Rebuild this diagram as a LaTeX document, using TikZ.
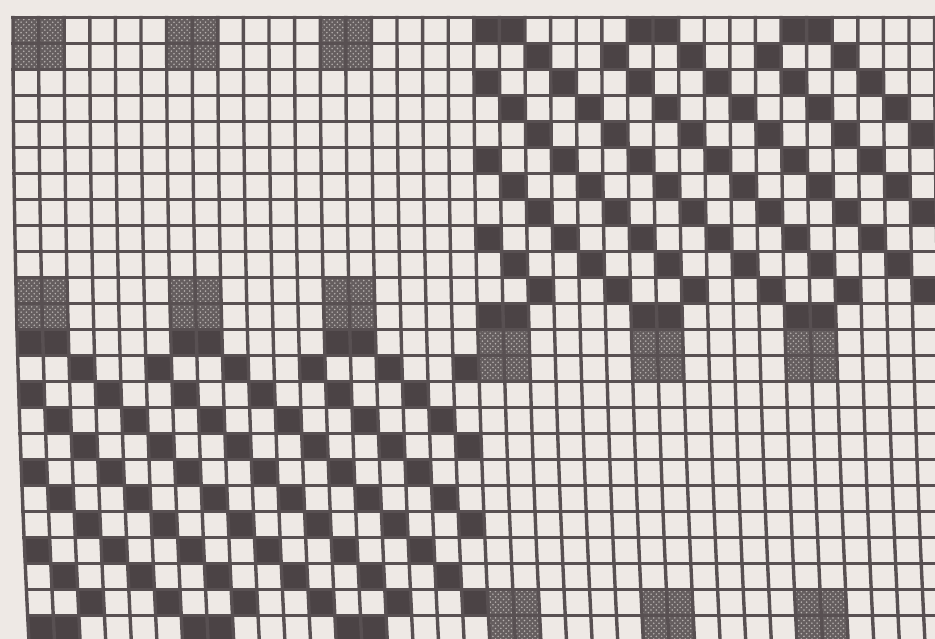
\documentclass[tikz,border=0pt]{standalone}
\usepackage{xcolor}
\usepackage{tikz}
\usetikzlibrary{patterns}
\definecolor{ink}{HTML}{4B4345}
\definecolor{paper}{HTML}{EEE9E5}

\begin{document}
\begin{tikzpicture}[x=0.2mm, y=-0.2mm,
  rule/.style={line width=0.68mm, line cap=rect, ink!92!paper},
  darkcell/.style={fill=ink},
  hatchcell/.style={fill=ink!84!paper, postaction={pattern=crosshatch dots, pattern color=paper!65!ink}}]
  \useasboundingbox (0,0) rectangle (935,639);
  \fill[paper] (0,0) rectangle (935,639);
  \begin{scope}
    \clip (0,0) rectangle (935,639);
    \foreach \row in {0,...,23}{
      \pgfmathsetmacro\yt{17.5+26*\row}
      \pgfmathsetmacro\yb{\yt+26}
      \pgfmathsetmacro\st{(0.0064*(\yt-17))^2}
      \pgfmathsetmacro\sb{(0.0064*(\yb-17))^2}
      \pgfmathtruncatemacro\ii{mod(\row,12)}
      \pgfmathtruncatemacro\rim{(\ii==0)||(\ii==11)}
      \pgfmathtruncatemacro\band{(\ii<2)||(\ii>9)}
      \foreach \col in {0,...,35}{
        \pgfmathtruncatemacro\jj{mod(\col,18)}
        \pgfmathtruncatemacro\pair{mod(\jj,6)<2}
        \pgfmathtruncatemacro\twill{mod(\jj,3)==mod(\ii+1,3)}
        \pgfmathtruncatemacro\cross{(\row<12)+(\col<18)==1}
        \pgfmathtruncatemacro\dark{\cross*(\rim*\pair+(1-\rim)*\twill)*(1-(\row==1)*(\col==35))}
        \pgfmathtruncatemacro\fleck{(1-\cross)*\band*\pair}
        \ifnum\dark=1
          \fill[darkcell] ({13+25.6*\col+\st},\yt) -- ({13+25.6*(\col+1)+\st},\yt)
            -- ({13+25.6*(\col+1)+\sb},\yb) -- ({13+25.6*\col+\sb},\yb) -- cycle;
        \fi
        \ifnum\fleck=1
          \fill[hatchcell] ({13+25.6*\col+\st},\yt) -- ({13+25.6*(\col+1)+\st},\yt)
            -- ({13+25.6*(\col+1)+\sb},\yb) -- ({13+25.6*\col+\sb},\yb) -- cycle;
        \fi
      }
    }
    \foreach \col in {0,...,36}
      \draw[rule] plot[variable=\t, samples=25, domain=0:24] ({13+25.6*\col+(0.0064*(26*\t+0.5))^2}, {17.5+26*\t});
    \foreach \row in {0,...,24}{
      \pgfmathsetmacro\yy{17.5+26*\row}
      \pgfmathsetmacro\ss{(0.0064*(\yy-17))^2}
      \draw[rule] ({13+\ss},\yy) -- ({13+25.6*36+\ss},\yy);
    }
  \end{scope}
\end{tikzpicture}
\end{document}
